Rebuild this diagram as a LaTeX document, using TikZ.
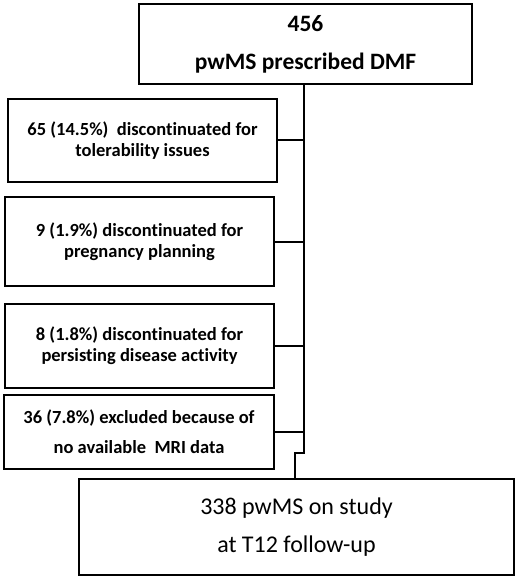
\documentclass[tikz,border=0pt]{standalone}
\usepackage{fontspec}
\setmainfont[Ligatures=CommonOff]{Carlito}
\begin{document}
\begin{tikzpicture}[x=1pt,y=-1pt,
  box/.style={draw=black,line width=2pt,inner sep=0pt,align=center,anchor=north west},
  side/.style={box,font=\bfseries\fontsize{18.5}{21}\selectfont},
  link/.style={draw=black,line width=2pt}]
\useasboundingbox (0,0) rectangle (529,585);
\node[box,minimum width=333,minimum height=80,font=\bfseries\fontsize{23.5}{38}\selectfont] (top) at (138,3) {456\\pwMS prescribed DMF};
\node[side,minimum width=269,minimum height=83] (b1) at (7,98) {65 (14.5\%)\ \ discontinuated for\\tolerability issues};
\node[side,minimum width=269,minimum height=89] (b2) at (4,196) {9 (1.9\%) discontinuated for\\pregnancy planning};
\node[side,minimum width=269,minimum height=84] (b3) at (4,303) {8 (1.8\%) discontinuated for\\persisting disease activity};
\node[side,minimum width=270,minimum height=74,font=\bfseries\fontsize{18.5}{30}\selectfont] (b4) at (3,394) {36 (7.8\%) excluded because of\\no available\ \ MRI data};
\node[box,minimum width=435,minimum height=96,font=\fontsize{24}{38}\selectfont] (bot) at (78,478) {338 pwMS on study\\at T12 follow-up};
\coordinate (j) at (304,453);
\coordinate (k) at (295,453);
\draw[link] (top.south -| j) -- (j) -- (k) -- (bot.north -| k);
\draw[link] (b1.east) -- (b1.east -| j);
\draw[link] (b2.east) -- (b2.east -| j);
\draw[link] (b3.east) -- (b3.east -| j);
\draw[link] (b4.east) -- (b4.east -| j);
\end{tikzpicture}
\end{document}
